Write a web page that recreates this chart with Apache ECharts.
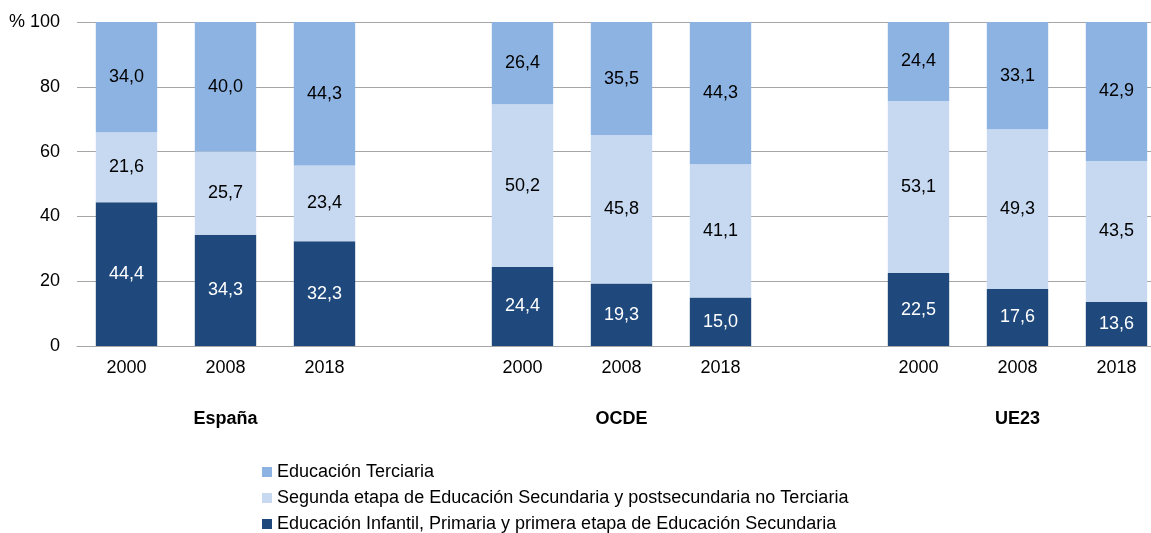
<!DOCTYPE html>
<html>
<head>
<meta charset="utf-8">
<script src="https://cdn.jsdelivr.net/npm/echarts@6/dist/echarts.min.js"></script>
<style>
  html, body { margin: 0; padding: 0; background: #fff; overflow: hidden; }
  /* the original plot runs past the right edge of the picture,
     and the legend touches the bottom edge */
  #chart { width: 1166px; height: 560px; }
</style>
</head>
<body>
<div id="chart"></div>
<script>
  // years, with an empty slot between groups
  var years = ['2000', '2008', '2018', '', '2000', '2008', '2018', '', '2000', '2008', '2018'];
  var groups = ['', 'España', '', '', '', 'OCDE', '', '', '', 'UE23', ''];
  var yTicks = [0, 20, 40, 60, 80, 100];

  var infantil = [44.4, 34.3, 32.3, null, 24.4, 19.3, 15.0, null, 22.5, 17.6, 13.6];
  var segunda = [21.6, 25.7, 23.4, null, 50.2, 45.8, 41.1, null, 53.1, 49.3, 43.5];
  var terciaria = [34.0, 40.0, 44.3, null, 26.4, 35.5, 44.3, null, 24.4, 33.1, 42.9];

  var names = [
    'Educación Infantil, Primaria y primera etapa de Educación Secundaria',
    'Segunda etapa de Educación Secundaria y postsecundaria no Terciaria',
    'Educación Terciaria'
  ];
  var colors = ['#1F497D', '#C6D9F1', '#8DB3E2'];
  var font = 'Liberation Sans, Arial, sans-serif';

  function fmt(p) {
    return p.value == null ? '' : p.value.toFixed(1).replace('.', ',');
  }

  function makeSeries(i, data, labelColor) {
    return {
      name: names[i],
      type: 'bar',
      stack: 'total',
      barWidth: '62%',
      data: data,
      clip: true,
      itemStyle: { color: colors[i] },
      label: {
        show: true,
        position: 'inside',
        formatter: fmt,
        color: labelColor,
        fontSize: 18,
        fontFamily: font
      }
    };
  }

  var chart = echarts.init(document.getElementById('chart'));
  chart.setOption({
    animation: false,
    textStyle: { fontFamily: font },
    legend: {
      orient: 'vertical',
      left: 257,
      top: 458,
      itemWidth: 10,
      itemHeight: 10,
      itemGap: 8,
      icon: 'rect',
      data: [names[2], names[1], names[0]],
      textStyle: { fontSize: 18, color: '#000', fontFamily: font, lineHeight: 18 }
    },
    grid: { left: 77, top: 22, right: 0, height: 324 },
    xAxis: [{
      type: 'category',
      data: years,
      axisLine: { lineStyle: { color: '#A6A6A6' } },
      axisTick: { length: 6, lineStyle: { color: '#A6A6A6' } },
      axisLabel: { fontSize: 18, color: '#000', margin: 13, interval: 0 }
    }, {
      type: 'category',
      position: 'bottom',
      offset: 51,
      data: groups,
      axisLine: { show: false },
      axisTick: { show: false },
      axisLabel: { fontSize: 18, fontWeight: 'bold', color: '#000', margin: 13, interval: 0 }
    }],
    yAxis: {
      type: 'value',
      min: 0,
      max: 100,
      interval: 20,
      axisLine: { show: false },
      axisTick: { show: false },
      splitLine: { lineStyle: { color: '#A6A6A6' } },
      axisLabel: {
        fontSize: 18,
        color: '#000',
        margin: 17,
        formatter: function (v) {
          return v === yTicks[yTicks.length - 1] ? '% ' + v : String(v);
        }
      }
    },
    series: [
      makeSeries(0, infantil, '#fff'),
      makeSeries(1, segunda, '#000'),
      makeSeries(2, terciaria, '#000')
    ]
  });
</script>
</body>
</html>
